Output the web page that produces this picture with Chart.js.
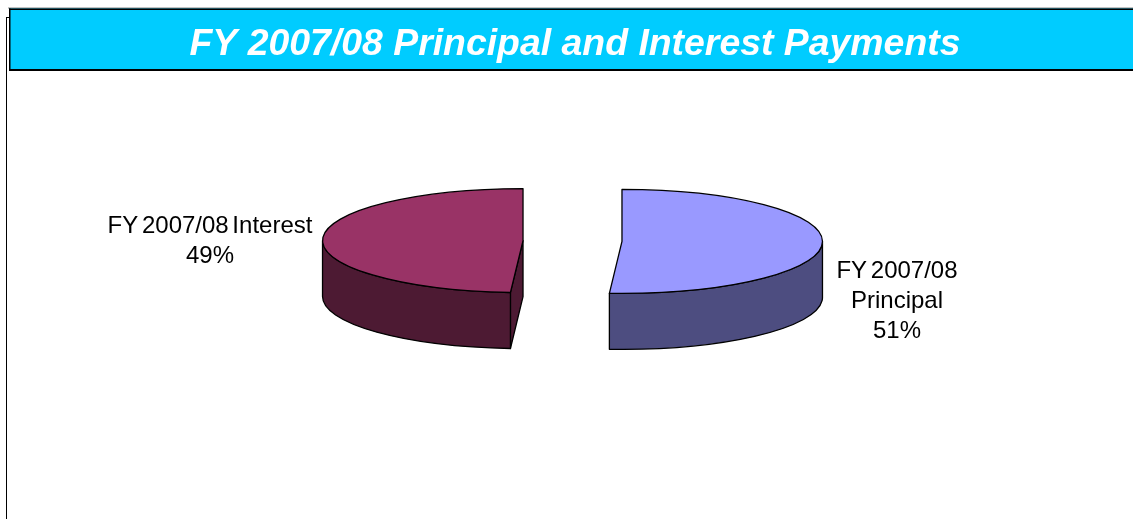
<!DOCTYPE html>
<html>
<head>
<meta charset="utf-8">
<style>html,body{margin:0;padding:0;background:#fff;overflow:hidden}canvas{display:block}</style>
<script src="https://cdn.jsdelivr.net/npm/chart.js@4/dist/chart.umd.js"></script>
</head>
<body>
<canvas id="c" width="1133" height="519"></canvas>
<script>
const titleText = 'FY 2007/08 Principal and Interest Payments';
const categories = ['FY 2007/08 Principal', 'FY 2007/08 Interest'];
const values = [51, 49];
const topColors = ['#9999FF', '#993366'];
const wallColors = ['#4D4D80', '#4D1A33'];
const sliceLabels = [['FY 2007/08', 'Principal', '51%'], ['FY 2007/08 Interest', '49%']];

const SQUASH = 52 / 200.5, DEPTH = 56, EXPLODE = 49.5;
const FONT = 'Liberation Sans, Arial, sans-serif';

function geom(arc) {
  const mid = (arc.startAngle + arc.endAngle) / 2;
  return {
    dx: Math.cos(mid) * EXPLODE,
    dy: Math.sin(mid) * EXPLODE * SQUASH,
    cx: arc.x + Math.cos(mid) * EXPLODE,
    cy: arc.y + Math.sin(mid) * EXPLODE * SQUASH,
    r: arc.outerRadius, s: arc.startAngle, e: arc.endAngle
  };
}
function rimPath(ctx, g, a0, a1, dy, ccw) {
  ctx.ellipse(g.cx, g.cy + dy, g.r, g.r * SQUASH, 0, a0, a1, !!ccw);
}
const pie3d = {
  id: 'pie3d',
  beforeDraw(chart) {
    const ctx = chart.ctx;
    ctx.save();
    ctx.fillStyle = '#000';
    ctx.fillRect(6, 17, 1, 502);
    ctx.fillRect(6, 17, 3, 1);
    ctx.fillStyle = '#00CCFF';
    ctx.fillRect(9, 8, 1124, 62);
    ctx.fillStyle = '#8a8a8a';
    ctx.fillRect(8, 7.5, 1125, 1);
    ctx.fillStyle = '#000';
    ctx.fillRect(9, 8.5, 1124, 1.5);
    ctx.fillRect(9, 69, 1124, 2);
    ctx.fillRect(9, 8.5, 1.5, 62.5);
    ctx.fillStyle = '#fff';
    ctx.font = 'italic bold 37.4px ' + FONT;
    ctx.textAlign = 'center';
    ctx.textBaseline = 'alphabetic';
    ctx.fillText(titleText, 575, 55);
    ctx.restore();
  },
  beforeDatasetsDraw(chart) {
    const ctx = chart.ctx, arcs = chart.getDatasetMeta(0).data;
    ctx.save();
    ctx.lineWidth = 1.3;
    ctx.strokeStyle = '#000';
    ctx.lineJoin = 'round';
    // side walls
    arcs.forEach((arc, i) => {
      const g = geom(arc);
      ctx.fillStyle = wallColors[i];
      if (g.e > Math.PI && g.s < Math.PI) {
        const ax = g.cx + g.r * Math.cos(g.s), ay = g.cy + g.r * SQUASH * Math.sin(g.s);
        ctx.beginPath();
        ctx.moveTo(g.cx, g.cy); ctx.lineTo(ax, ay);
        ctx.lineTo(ax, ay + DEPTH); ctx.lineTo(g.cx, g.cy + DEPTH);
        ctx.closePath(); ctx.fill(); ctx.stroke();
      }
      const a0 = Math.max(g.s, 0), a1 = Math.min(g.e, Math.PI);
      ctx.beginPath();
      rimPath(ctx, g, a0, a1, 0);
      rimPath(ctx, g, a1, a0, DEPTH, true);
      ctx.closePath(); ctx.fill(); ctx.stroke();
    });
    ctx.restore();
    // top faces: the library's own arc elements, squashed and pulled apart
    arcs.forEach(arc => {
      const g = geom(arc);
      ctx.save();
      ctx.translate(g.dx, arc.y + g.dy);
      ctx.scale(1, SQUASH);
      ctx.translate(0, -arc.y);
      arc.draw(ctx);
      ctx.restore();
    });
    ctx.save();
    ctx.lineWidth = 1.3;
    ctx.strokeStyle = '#000';
    ctx.lineJoin = 'round';
    arcs.forEach(arc => {
      const g = geom(arc);
      ctx.beginPath();
      ctx.moveTo(g.cx, g.cy);
      rimPath(ctx, g, g.s, g.e, 0);
      ctx.closePath();
      ctx.stroke();
    });
    ctx.fillStyle = '#000';
    ctx.font = '24px ' + FONT;
    ctx.textAlign = 'center';
    ctx.wordSpacing = '-3px';
    const anchors = [[897, 278], [210, 233]];
    sliceLabels.forEach((lines, i) => {
      lines.forEach((t, j) => ctx.fillText(t, anchors[i][0], anchors[i][1] + j * 30));
    });
    ctx.restore();
    return false;
  }
};

new Chart(document.getElementById('c'), {
  type: 'pie',
  data: {
    labels: categories,
    datasets: [{
      data: values,
      backgroundColor: topColors,
      borderWidth: 0
    }]
  },
  options: {
    responsive: false,
    animation: false,
    radius: 200.5,
    layout: { padding: { left: 12, right: 0, top: 0, bottom: 37 } },
    plugins: { legend: { display: false }, tooltip: { enabled: false }, title: { display: false } }
  },
  plugins: [pie3d]
});
</script>
</body>
</html>
